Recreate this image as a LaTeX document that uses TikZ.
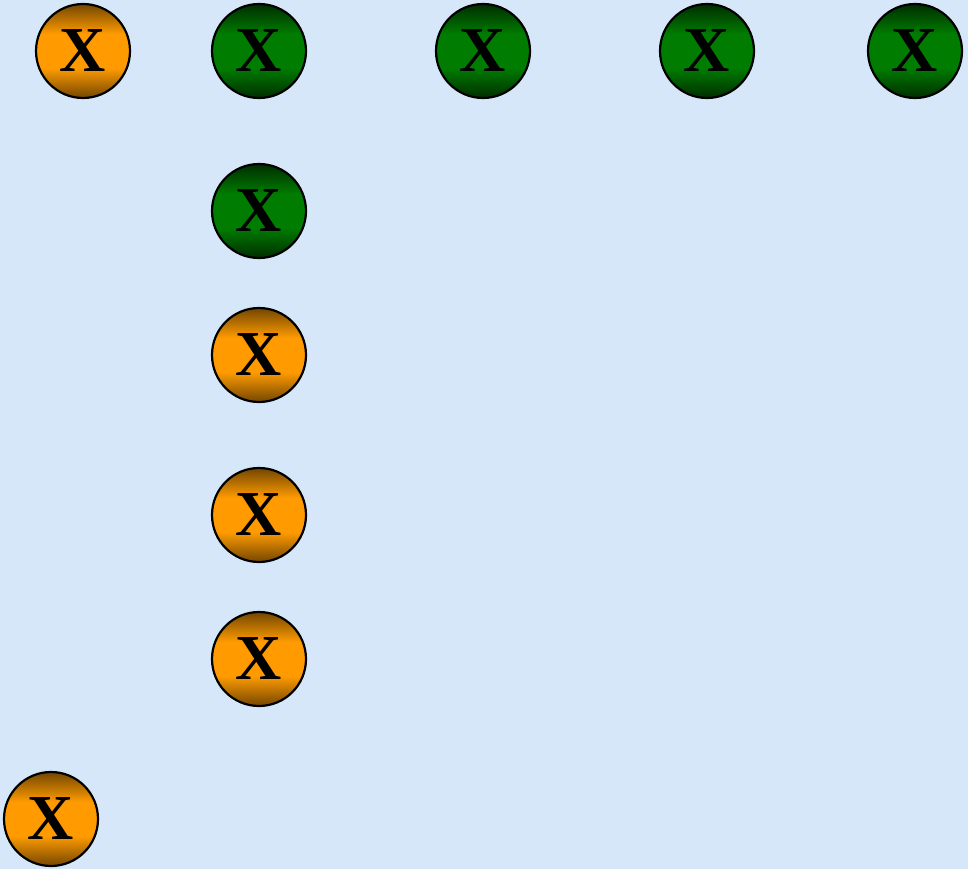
\documentclass[tikz,border=0pt]{standalone}
\usepackage{fontspec}
\setmainfont{Liberation Serif}
\definecolor{bgblue}{RGB}{214,231,249}
\definecolor{orangemid}{RGB}{255,155,0}
\definecolor{orangedark}{RGB}{115,70,0}
\definecolor{greenmid}{RGB}{0,124,0}
\definecolor{greendark}{RGB}{0,45,0}
\pgfdeclareverticalshading{orangeshade}{100bp}{
  color(0bp)=(orangedark); color(25bp)=(orangedark); color(41bp)=(orangemid); color(59bp)=(orangemid); color(75bp)=(orangedark); color(100bp)=(orangedark)}
\pgfdeclareverticalshading{greenshade}{100bp}{
  color(0bp)=(greendark); color(25bp)=(greendark); color(41bp)=(greenmid); color(59bp)=(greenmid); color(75bp)=(greendark); color(100bp)=(greendark)}
\tikzset{
  ball/.style={circle, draw=black, line width=2.2pt, minimum size=94pt, inner sep=0pt,
    font=\fontsize{64}{64}\selectfont\bfseries},
  orangeball/.style={ball, shading=orangeshade},
  greenball/.style={ball, shading=greenshade},
}
\begin{document}
\begin{tikzpicture}[x=1pt,y=1pt]
\fill[bgblue] (0,0) rectangle (968,-869);
\useasboundingbox (0,0) rectangle (968,-869);
\node[orangeball] (o1) at (83,-51) {X};
\node[greenball] (g1) at (259,-51) {X};
\node[greenball] (g2) at (483,-51) {X};
\node[greenball] (g3) at (707,-51) {X};
\node[greenball] (g4) at (915,-51) {X};
\node[greenball] (g5) at (259,-211) {X};
\node[orangeball] (o2) at (259,-355) {X};
\node[orangeball] (o3) at (259,-515) {X};
\node[orangeball] (o4) at (259,-659) {X};
\node[orangeball] (o5) at (51,-819) {X};
\end{tikzpicture}
\end{document}
